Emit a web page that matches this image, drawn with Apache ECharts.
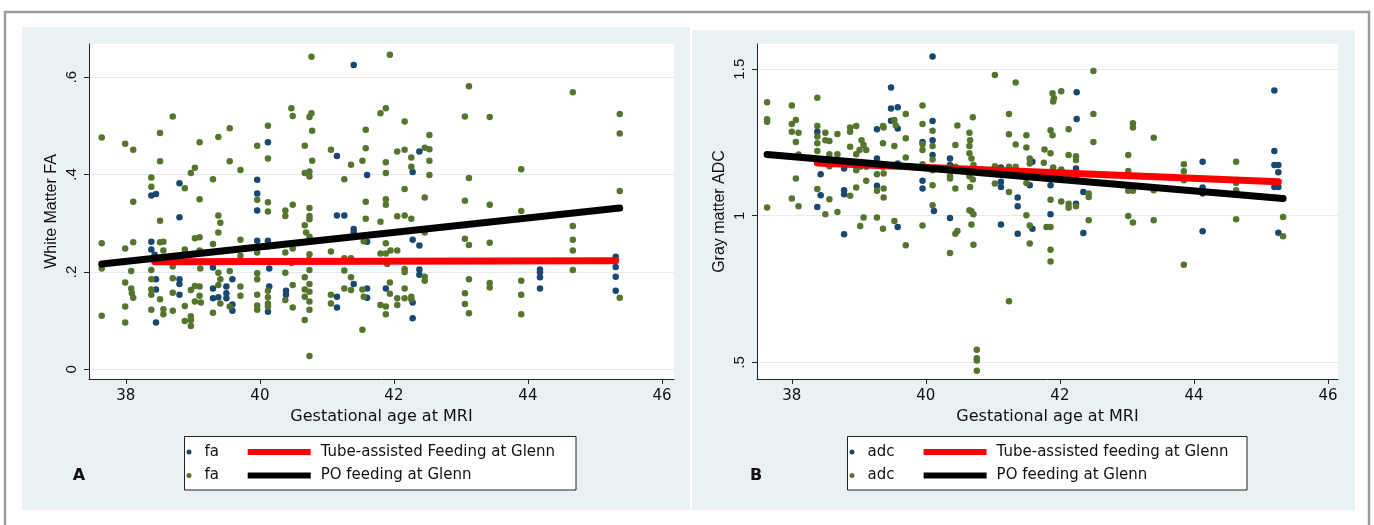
<!DOCTYPE html>
<html>
<head>
<meta charset="utf-8">
<title>FA and ADC vs gestational age</title>
<script src="https://cdn.jsdelivr.net/npm/echarts@6.0.0/dist/echarts.min.js"></script>
<style>
html,body{margin:0;padding:0;background:#fff;}
#c{width:1374px;height:525px;}
</style>
</head>
<body>
<div id="c"></div>
<script>
// ---------- tick labels ----------
const xTicks = [38, 40, 42, 44, 46];
const faTicks = [0, 0.2, 0.4, 0.6];
const adcTicks = [0.5, 1, 1.5];

// ---------- Panel A: White matter FA ----------
const faTube = [
[38.38,0.357],[38.45,0.360],[38.38,0.262],[38.38,0.246],[38.43,0.235],[38.45,0.185],[38.45,0.164],[38.45,0.096],
[38.80,0.382],[38.80,0.312],[38.80,0.185],[38.80,0.175],[38.80,0.153],
[39.30,0.209],[39.30,0.166],[39.30,0.146],[39.38,0.148],
[39.50,0.170],[39.50,0.156],[39.50,0.146],[39.59,0.185],[39.59,0.133],[39.59,0.120],
[39.96,0.389],[39.96,0.361],[39.96,0.326],[39.96,0.264],
[40.12,0.466],[40.12,0.264],[40.14,0.207],[40.14,0.170],[40.12,0.118],
[40.39,0.161],[40.39,0.153],
[41.15,0.438],[41.15,0.316],[41.26,0.316],[41.40,0.288],[41.40,0.281],[41.40,0.175],[41.15,0.149],[41.15,0.127],[41.40,0.625],
[41.60,0.399],[41.60,0.262],[41.60,0.166],[41.60,0.147],
[41.88,0.166],
[42.38,0.447],[42.28,0.405],[42.28,0.266],[42.38,0.254],[42.38,0.205],[42.38,0.194],[42.28,0.137],[42.28,0.105],
[44.18,0.205],[44.18,0.199],[44.18,0.189],[44.18,0.166],
[45.31,0.231],[45.31,0.210],[45.31,0.190],[45.31,0.161]
];
const faPO = [
[37.64,0.476],[37.64,0.259],[37.64,0.207],[37.64,0.110],
[37.99,0.463],[38.11,0.451],[38.11,0.344],[38.11,0.261],[37.99,0.248],[38.08,0.202],[37.99,0.178],[38.08,0.166],[38.09,0.156],[38.11,0.147],[37.99,0.129],[37.99,0.096],
[38.38,0.394],[38.38,0.375],[38.51,0.485],[38.51,0.305],[38.51,0.261],[38.56,0.262],[38.56,0.244],[38.38,0.204],[38.38,0.185],[38.38,0.164],[38.38,0.153],[38.51,0.144],[38.38,0.122],[38.56,0.123],[38.56,0.113],[38.51,0.427],
[38.70,0.519],[38.70,0.211],[38.70,0.187],[38.70,0.157],[38.70,0.120],
[38.88,0.372],[38.88,0.246],[38.88,0.130],[38.97,0.101],[38.88,0.099],[38.97,0.089],[38.97,0.163],[39.03,0.171],[38.97,0.403],[39.03,0.414],
[39.10,0.466],[39.10,0.349],[39.03,0.269],[39.10,0.271],[39.10,0.244],[39.11,0.207],[39.10,0.170],[39.10,0.151],[39.03,0.139],[38.97,0.109],[39.12,0.137],
[39.30,0.390],[39.38,0.316],[39.41,0.301],[39.38,0.281],[39.30,0.257],[39.38,0.198],[39.41,0.185],[39.38,0.173],[39.41,0.135],[39.30,0.116],[39.38,0.477],
[39.55,0.495],[39.55,0.427],[39.55,0.202],[39.55,0.129],
[39.71,0.409],[39.71,0.266],[39.71,0.233],[39.71,0.170],[39.71,0.151],
[39.96,0.459],[39.96,0.348],[39.96,0.240],[39.96,0.197],[39.96,0.185],[39.96,0.153],[39.96,0.131],[39.96,0.122],
[40.12,0.500],[40.12,0.433],[40.12,0.343],[40.12,0.324],[40.12,0.252],[40.12,0.161],[40.12,0.148],[40.12,0.135],[40.12,0.129],
[40.38,0.326],[40.38,0.315],[40.49,0.338],[40.38,0.240],[40.49,0.248],[40.38,0.198],[40.47,0.218],[40.38,0.142],[40.49,0.173],[40.49,0.127],[40.47,0.536],[40.49,0.520],
[40.67,0.459],[40.74,0.518],[40.77,0.526],[40.78,0.490],[40.67,0.403],[40.74,0.406],[40.74,0.396],[40.78,0.428],[40.74,0.331],[40.74,0.315],[40.74,0.308],[40.67,0.296],[40.69,0.281],[40.74,0.272],[40.74,0.236],[40.73,0.225],[40.74,0.204],[40.67,0.189],[40.74,0.175],[40.67,0.164],[40.74,0.159],[40.67,0.149],[40.74,0.139],[40.74,0.122],[40.67,0.101],[40.74,0.027],[40.77,0.642],
[41.06,0.451],[41.26,0.390],[41.06,0.242],[41.26,0.228],[41.36,0.228],[41.26,0.203],[41.36,0.189],[41.26,0.166],[41.36,0.163],[41.06,0.153],[41.06,0.135],[41.36,0.420],
[41.58,0.492],[41.58,0.454],[41.53,0.428],[41.58,0.344],[41.58,0.309],[41.55,0.263],[41.53,0.164],[41.55,0.149],[41.53,0.081],
[41.80,0.526],[41.88,0.536],[41.94,0.646],[41.88,0.425],[41.88,0.403],[41.88,0.349],[41.88,0.338],[41.80,0.303],[41.88,0.259],[41.80,0.238],[41.88,0.238],[41.95,0.244],[41.88,0.221],[41.90,0.216],[41.94,0.178],[41.94,0.155],[41.80,0.132],[41.88,0.129],[41.88,0.113],
[42.05,0.447],[42.05,0.314],[42.05,0.244],[42.05,0.146],[42.05,0.132],
[42.16,0.509],[42.53,0.481],[42.16,0.451],[42.26,0.435],[42.46,0.455],[42.53,0.452],[42.53,0.428],[42.26,0.416],[42.53,0.399],[42.16,0.370],[42.46,0.353],[42.16,0.316],[42.26,0.309],[42.46,0.281],[42.16,0.206],[42.16,0.200],[42.46,0.190],[42.46,0.182],[42.16,0.166],[42.16,0.146],[42.26,0.149],[42.26,0.144],
[43.12,0.581],[43.06,0.519],[43.43,0.518],[43.12,0.393],[43.06,0.346],[43.43,0.338],[43.06,0.268],[43.12,0.255],[43.43,0.260],[43.12,0.185],[43.43,0.177],[43.43,0.168],[43.06,0.156],[43.06,0.134],[43.12,0.115],
[43.90,0.411],[43.90,0.325],[43.90,0.182],[43.90,0.153],[43.90,0.113],
[44.67,0.569],[44.67,0.294],[44.67,0.266],[44.67,0.244],[44.67,0.204],
[45.37,0.524],[45.37,0.484],[45.37,0.366],[45.37,0.147]
];
const faTubeFit = [[38.43,0.221],[45.31,0.223]];
const faPOFit = [[37.64,0.216],[45.37,0.331]];

// ---------- Panel B: Gray matter ADC ----------
const adcTube = [
[38.38,1.287],[38.43,1.142],[38.43,1.070],[38.38,1.030],
[38.78,1.161],[38.78,1.087],[38.78,1.073],[38.78,0.937],
[39.27,1.295],[39.27,1.195],[39.27,1.102],
[39.48,1.438],[39.48,1.366],[39.58,1.370],[39.48,1.324],[39.58,1.298],[39.58,1.178],[39.58,0.962],
[39.95,1.252],[39.95,1.119],[39.95,1.093],
[40.10,1.543],[40.10,1.323],[40.10,1.258],[40.10,1.207],[40.12,1.016],
[40.36,1.195],[40.36,1.173],[40.36,0.992],
[41.12,1.165],[41.12,1.116],[41.12,1.098],[41.37,1.062],[41.37,1.032],[41.55,1.104],[41.59,1.184],[41.59,0.956],[41.12,0.970],[41.37,0.939],
[41.91,1.133],[41.86,1.104],[41.86,1.005],
[42.25,1.421],[42.25,1.330],[42.24,1.161],[42.35,1.081],[42.24,1.041],[42.35,0.941],
[44.13,1.184],[44.13,1.096],[44.13,1.076],[44.13,0.947],
[45.20,1.427],[45.20,1.221],[45.20,1.173],[45.26,1.173],[45.26,1.148],[45.20,1.098],[45.26,1.098],[45.26,0.942]
];
const adcPO = [
[37.63,1.387],[37.63,1.329],[37.63,1.321],[37.63,1.028],
[38.00,1.376],[38.00,1.313],[38.06,1.327],[38.00,1.287],[38.10,1.283],[38.06,1.252],[38.10,1.209],[38.06,1.127],[38.00,1.059],[38.10,1.032],
[38.38,1.403],[38.38,1.306],[38.38,1.270],[38.38,1.247],[38.38,1.221],[38.50,1.283],[38.50,1.258],[38.56,1.255],[38.56,1.210],[38.56,1.169],[38.38,1.091],[38.56,1.056],[38.50,1.005],
[38.68,1.279],[38.68,1.210],[38.68,1.013],
[38.87,1.301],[38.87,1.287],[38.96,1.306],[38.87,1.235],[38.96,1.210],[39.01,1.224],[39.04,1.258],[39.07,1.241],[39.11,1.224],[38.96,1.155],[39.02,1.167],[39.11,1.167],[38.96,1.096],[38.87,1.068],[39.07,0.994],[39.02,0.965],[39.11,1.119],
[39.36,1.306],[39.37,1.301],[39.36,1.247],[39.36,1.167],[39.27,1.142],[39.37,1.144],[39.27,1.085],[39.37,1.093],[39.37,1.062],[39.27,0.994],[39.36,0.956],
[39.53,1.327],[39.55,1.309],[39.70,1.347],[39.70,1.264],[39.53,1.238],[39.70,1.199],[39.53,0.982],[39.70,0.899],
[39.95,1.376],[39.95,1.313],[39.95,1.224],[39.95,1.244],[39.95,1.176],[39.95,0.967],
[40.10,1.290],[40.10,1.238],[40.10,1.192],[40.10,1.155],[40.10,1.104],[40.10,1.036],
[40.44,1.167],[40.44,1.241],[40.47,1.308],[40.36,1.135],[40.36,1.127],[40.44,1.093],[40.44,0.939],[40.47,0.948],[40.36,0.873],
[40.65,1.283],[40.66,1.258],[40.65,1.238],[40.70,1.336],[40.65,1.213],[40.68,1.195],[40.71,1.173],[40.65,1.135],[40.70,1.124],[40.66,1.098],[40.65,1.019],[40.68,1.015],[40.71,1.005],[40.68,0.970],[40.71,0.901],[40.76,0.543],[40.76,0.514],[40.76,0.506],[40.76,0.471],
[41.03,1.480],[41.24,1.347],[41.34,1.455],[41.24,1.278],[41.34,1.243],[41.50,1.275],[41.24,1.167],[41.03,1.169],[41.03,1.110],[41.24,1.081],[41.34,1.167],[41.50,1.233],[41.55,1.195],[41.55,1.178],[41.50,1.112],[41.50,1.002],[41.55,0.967],[41.55,0.905],[41.24,0.708],
[41.77,1.226],[41.86,1.292],[41.89,1.275],[41.86,1.213],[41.86,1.150],[41.86,1.055],[41.80,0.962],[41.86,0.962],[41.86,0.884],[41.86,0.844],[41.89,1.418],[41.91,1.401],[41.90,1.390],[41.76,1.181],[41.90,1.165],
[42.02,1.425],[42.50,1.494],[42.50,1.347],[42.13,1.295],[42.50,1.252],[42.13,1.207],[42.24,1.203],[42.24,1.190],[42.02,1.158],[42.02,1.144],[42.13,1.138],[42.24,1.127],[42.43,1.076],[42.43,1.064],[42.02,1.049],[42.13,1.041],[42.13,1.027],[42.24,1.032],[42.43,0.985],
[43.02,1.207],[43.09,1.316],[43.09,1.301],[43.02,1.153],[43.02,1.085],[43.09,1.085],[43.02,0.999],[43.09,0.977],
[43.40,1.266],[43.40,1.133],[43.40,1.087],[43.40,0.985],
[43.85,1.176],[43.85,1.152],[43.85,1.121],[43.85,0.833],
[44.63,1.184],[44.63,1.112],[44.63,1.087],[44.63,0.988],
[45.33,0.996],[45.33,0.930]
];
const adcTubeFit = [[38.38,1.180],[45.26,1.116]];
const adcPOFit = [[37.63,1.209],[45.33,1.059]];

// ---------- names ----------
const nameTubeA = 'Tube-assisted Feeding at Glenn';
const namePOA = 'PO feeding at Glenn';
const nameTubeB = 'Tube-assisted feeding at Glenn';
const namePOB = 'PO feeding at Glenn ';

// ---------- style constants ----------
const BLUE = '#1a476f', GREEN = '#55752f', RED = '#ff0000', BLACK = '#000000';
const HFONT = 'DejaVu Sans';
const VFONT = 'Liberation Sans';
const fmtY = v => String(v).replace(/^0\./, '.');

function xAxis(gridIndex, min, max) {
  return {
    type: 'value', gridIndex, min, max,
    name: 'Gestational age at MRI', nameLocation: 'middle', nameGap: 29,
    nameTextStyle: {fontFamily: HFONT, fontSize: 16, color: '#111'},
    axisLine: {show: true, onZero: false, lineStyle: {color: '#222', width: 1}},
    axisTick: {show: true, length: 5, inside: false, lineStyle: {color: '#222', width: 1}, customValues: xTicks},
    axisLabel: {show: true, margin: 10, fontFamily: HFONT, fontSize: 15, color: '#111', customValues: xTicks},
    splitLine: {show: false}
  };
}
function yAxis(gridIndex, min, max, splitNumber, ticks, title) {
  return {
    type: 'value', gridIndex, min, max, splitNumber,
    name: title, nameLocation: 'middle', nameGap: 29, nameRotate: 90,
    nameTextStyle: {fontFamily: VFONT, fontSize: 16, color: '#111'},
    axisLine: {show: true, onZero: false, lineStyle: {color: '#222', width: 1}},
    axisTick: {show: true, length: 5, lineStyle: {color: '#222', width: 1}, customValues: ticks},
    axisLabel: {show: true, rotate: 90, margin: 10, fontFamily: VFONT, fontSize: 15, color: '#111',
                formatter: fmtY, customValues: ticks},
    splitLine: {show: true, lineStyle: {color: '#e3ecf0', width: 1}}
  };
}
function scatter(name, data, color, idx) {
  return {type: 'scatter', name, data, xAxisIndex: idx, yAxisIndex: idx,
          symbol: 'circle', symbolSize: 6.5, itemStyle: {color, opacity: 1}, z: 2, silent: true};
}
function fit(name, data, color, idx) {
  return {type: 'line', name, data, xAxisIndex: idx, yAxisIndex: idx,
          symbol: 'none', showSymbol: false, color, itemStyle: {color},
          lineStyle: {color, width: 7, cap: 'round'}, z: 3, silent: true};
}
function legendDots(left, names) {
  return {data: names, orient: 'vertical', left, top: 443.3, padding: 0,
          itemWidth: 17, itemHeight: 5, icon: 'circle', itemGap: 6, selectedMode: false,
          formatter: n => n.trim(),
          textStyle: {fontFamily: HFONT, fontSize: 15, color: '#111', lineHeight: 17.5, padding: [0, 0, 0, 2]}};
}
function legendLines(left, names) {
  return {data: names, orient: 'vertical', left, top: 443.3, padding: 0,
          itemWidth: 63, itemHeight: 6, icon: 'rect', itemGap: 6, selectedMode: false,
          formatter: n => n.trim(),
          textStyle: {fontFamily: HFONT, fontSize: 15, color: '#111', lineHeight: 17.5, padding: [0, 0, 0, 5]}};
}

const chart = echarts.init(document.getElementById('c'), null, {renderer: 'canvas'});
chart.setOption({
  animation: false,
  backgroundColor: '#ffffff',
  graphic: [
    {type: 'rect', z: -100, shape: {x: 5, y: 12, width: 1364, height: 540},
     style: {fill: '#ffffff', stroke: '#9b9b9b', lineWidth: 2.5}},
    {type: 'rect', z: -90, shape: {x: 22, y: 27, width: 668, height: 483}, style: {fill: '#eaf1f3'}},
    {type: 'rect', z: -90, shape: {x: 692, y: 30, width: 663, height: 480}, style: {fill: '#eaf1f3'}},
    {type: 'rect', z: 1, shape: {x: 184.5, y: 436.5, width: 391.5, height: 53.5},
     style: {fill: '#ffffff', stroke: '#222', lineWidth: 1}},
    {type: 'rect', z: 1, shape: {x: 847.5, y: 436.5, width: 399.5, height: 53.5},
     style: {fill: '#ffffff', stroke: '#222', lineWidth: 1}},
    {type: 'text', z: 10, x: 79, y: 476,
     style: {text: 'A', font: 'bold 16px "DejaVu Sans"', fill: '#111', align: 'center', verticalAlign: 'middle'}},
    {type: 'text', z: 10, x: 756, y: 476,
     style: {text: 'B', font: 'bold 16px "DejaVu Sans"', fill: '#111', align: 'center', verticalAlign: 'middle'}}
  ],
  grid: [
    {left: 89, top: 44, width: 585, height: 335, show: true, backgroundColor: '#ffffff', borderWidth: 0, containLabel: false},
    {left: 757, top: 44, width: 581, height: 335, show: true, backgroundColor: '#ffffff', borderWidth: 0, containLabel: false}
  ],
  xAxis: [xAxis(0, 37.45, 46.18), xAxis(1, 37.48, 46.15)],
  yAxis: [yAxis(0, -0.02, 0.668, 3, faTicks, 'White Matter FA'),
          yAxis(1, 0.443, 1.586, 2, adcTicks, 'Gray matter ADC')],
  legend: [
    legendDots(186.5, ['fa', 'fa ']),
    legendLines(247.7, [nameTubeA, namePOA]),
    legendDots(849.5, ['adc', 'adc ']),
    legendLines(923.6, [nameTubeB, namePOB])
  ],
  series: [
    scatter('fa', faTube, BLUE, 0),
    scatter('fa ', faPO, GREEN, 0),
    fit(nameTubeA, faTubeFit, RED, 0),
    fit(namePOA, faPOFit, BLACK, 0),
    scatter('adc', adcTube, BLUE, 1),
    scatter('adc ', adcPO, GREEN, 1),
    fit(nameTubeB, adcTubeFit, RED, 1),
    fit(namePOB, adcPOFit, BLACK, 1)
  ]
});
</script>
</body>
</html>
